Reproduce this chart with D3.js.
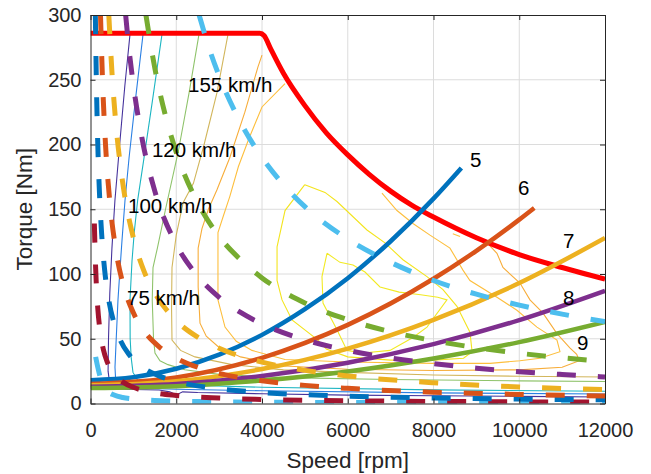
<!DOCTYPE html>
<html>
<head>
<meta charset="utf-8">
<script src="https://cdn.jsdelivr.net/npm/d3@7"></script>
<style>
  body { margin: 0; background: #fff; }
  text { font-family: 'Liberation Sans', Arial, sans-serif; }
</style>
</head>
<body>
<script>
const width = 651;
const height = 474;

// axis ticks
const xTicks = [0, 2000, 4000, 6000, 8000, 10000, 12000];
const yTicks = [0, 50, 100, 150, 200, 250, 300];

// max torque line [rpm, Nm]
const maxTorque = [[0,286],[3950,286],[4050,284],[4200,274],[4500,255],[5000,230],[5500,209],[6000,192],[6500,177],[7000,164],[7500,153],[8000,144],[9000,128],[10000,115],[11000,105],[12000,96]];

// road load for fixed gear ratio 5..9
const gear5 = [[0,18],[1000,20.2],[2000,26.8],[3000,37.7],[4000,53],[5000,72.8],[6000,96.8],[7000,125.3],[8000,158.2],[8650,181.9]];
const gear6 = [[0,15],[2000,20.1],[4000,35.3],[6000,60.7],[8000,96.3],[9000,117.9],[10000,142],[10350,151]];
const gear7 = [[0,14],[2000,17.2],[4000,26.6],[6000,42.4],[8000,64.6],[10000,93],[12000,127.8]];
const gear8 = [[0,13],[2000,15.1],[4000,21.2],[6000,31.5],[8000,45.9],[10000,64.4],[12000,87]];
const gear9 = [[0,12],[2000,13.4],[4000,17.7],[6000,24.7],[8000,34.7],[10000,47.4],[12000,63]];
const gearNames = ['5', '6', '7', '8', '9'];

// constant vehicle speed (dashed)
const speedA = [[120,36],[170,28],[230,20],[300,14],[400,9.5],[550,6.5],[750,4.6],[1000,3.5],[1500,2.4],[2500,1.5],[4000,1],[6000,0.8],[9000,0.6],[12000,0.5]];
const speedB = [[90,139],[110,114],[135,92.6],[170,73.5],[220,56.8],[300,41.7],[400,31.3],[550,22.7],[750,16.7],[1000,12.5],[1500,8.3],[2000,6.25],[3000,4.2],[4000,3.1],[6000,2.1],[8000,1.6],[10000,1.25],[12000,1.04]];
const speedC = [[113,300],[140,243],[170,200],[210,162],[260,131],[330,103],[420,81],[550,62],[700,48.6],[900,37.8],[1200,28.3],[1600,21.3],[2000,17],[2500,13.6],[3000,11.3],[4000,8.5],[6000,5.7],[8000,4.25],[10000,3.4],[12000,2.8]];
const speedD = [[233,300],[280,250],[350,200],[450,156],[600,117],[800,87.5],[1000,70],[1300,53.8],[1600,43.8],[2000,35],[2500,28],[3000,23.3],[4000,17.5],[5000,14],[6000,11.7],[8000,8.75],[10000,7],[12000,5.8]];
const speedE = [[427,300],[500,256],[600,213],[700,183],[800,160],[1000,128],[1250,102],[1500,85.3],[2000,64],[2500,51.2],[3000,42.7],[4000,32],[5000,25.6],[6000,21.3],[8000,16],[10000,12.8],[12000,10.7]];
const speedF = [[820,300],[900,273],[1000,246],[1200,205],[1500,164],[2000,123],[2500,98.4],[3000,82],[3500,70.3],[4000,61.5],[5000,49.2],[6000,41],[7000,35.1],[8000,30.8],[9000,27.3],[10000,24.6],[11000,22.4],[12000,20.5]];
const speedG = [[1293,300],[1500,259],[1750,222],[2000,194],[2500,155],[3000,129],[3500,111],[4000,97],[5000,77.6],[6000,64.7],[7000,55.4],[8000,48.5],[9000,43.1],[10000,38.8],[11000,35.3],[12000,32.3]];
const speedH = [[2533,300],[2800,271],[3000,253],[3500,217],[4000,190],[4500,169],[5000,152],[6000,127],[7000,109],[8000,95],[9000,84.4],[10000,76],[11000,69],[12000,63.3]];

// efficiency contours
const eff1 = [[921,285],[800,245],[680,200],[570,157],[500,120],[450,85],[420,50],[410,25],[450,15],[600,11.5],[1000,10.8],[1600,10.4],[1850,9],[2000,6.6],[2150,9],[2500,8.5],[4000,7.5],[6000,6.5],[8000,6],[10000,5.5],[12000,5]];
const eff2 = [[1225,285],[1050,235],[900,190],[805,157],[735,126],[680,100],[641,80],[600,50],[571,28],[590,16],[700,13],[1000,12],[2000,11],[4000,9.8],[8000,8.2],[12000,7.3]];
const eff3 = [[1667,285],[1450,235],[1250,190],[1100,157],[1020,132],[968,110],[921,80],[925,50],[950,35],[991,24],[1100,18],[1400,16],[2000,14.5],[4000,12.5],[8000,10.5],[12000,9.5]];
const eff4 = [[2530,285],[2300,240],[2050,195],[1750,150],[1560,120],[1458,105],[1440,80],[1470,50],[1504,39],[1620,33],[1807,30],[2200,26],[3000,22.5],[4500,20],[7000,18.5],[10000,17.5],[12000,17]];
const eff5 = [[3207,285],[2950,240],[2650,200],[2400,170],[2160,155],[2000,130],[1901,105],[1890,75],[1901,49],[2100,41],[2437,36],[3300,30],[4500,26],[6000,24],[8000,22],[10000,21],[12000,20.5]];
const eff6 = [[4000,269],[3906,260],[3600,225],[3250,190],[2950,165],[2750,150],[2600,135],[2511,120],[2511,90],[2554,62],[2700,52],[2973,44],[3500,36],[4537,29],[6000,26.5],[8000,25.5],[10000,26],[11000,28],[11400,33],[11340,38],[11180,43],[10880,54],[10550,70],[10250,80],[10016,93],[9620,105],[9480,116],[9250,124]];
const eff7 = [[4537,247],[4000,229],[3700,205],[3450,183],[3250,160],[3100,145],[2973,132],[2973,80],[3137,59],[3400,48],[3767,41],[4537,34],[6000,32],[8000,31],[9317,31],[10016,33],[10482,35],[10950,40],[10880,49],[10413,59],[9946,72],[9480,82],[8850,95],[8687,103],[8384,120],[7918,130],[7521,139],[7148,149],[6798,162.5]];
const eff7b = [[8450,131],[8620,129]];
const eff8 = [[4998,169],[5469,163],[5749,156],[6448,134],[6868,124],[7288,111],[7848,98],[8221,88],[8547,75],[8850,55],[8900,40],[8700,35],[8000,33.5],[7000,33.5],[6000,36],[5500,42],[5306,49],[4700,64.5],[4467,80],[4351,95],[4351,121],[4537,149],[4998,169]];
const eff9 = [[5516,116],[5819,109],[6122,107],[6402,101.5],[6752,90],[7200,86],[7700,84],[8100,82],[8314,80],[7848,59],[7521,51],[6985,41],[6356,39],[5983,41],[5749,57],[5423,77.6],[5399,98],[5516,116]];

// text labels [rpm, Nm]
const speedLabels = [['155 km/h', 2274, 246], ['120 km/h', 1434, 196], ['100 km/h', 875, 153], ['75 km/h', 851, 81.5]];
const gearLabelPos = [[8850, 188], [9970, 167], [11020, 126], [11020, 82], [11345, 46.7]];

const svg = d3.select('body').append('svg').attr('width', width).attr('height', height);

const x = d3.scaleLinear().domain([0, 12000]).range([90.5, 605]);
const y = d3.scaleLinear().domain([0, 300]).range([403.5, 15]);

svg.append('clipPath').attr('id', 'plot')
  .append('rect').attr('x', x(0)).attr('y', y(300))
  .attr('width', x(12000) - x(0)).attr('height', y(0) - y(300));

// grid
const grid = svg.append('g');
grid.selectAll('.gx').data(xTicks.slice(1, -1)).enter().append('line')
  .attr('x1', d => x(d)).attr('x2', d => x(d)).attr('y1', y(0)).attr('y2', y(300))
  .attr('stroke', '#dcdcdc').attr('stroke-width', 1);
grid.selectAll('.gy').data(yTicks.slice(1, -1)).enter().append('line')
  .attr('y1', d => y(d)).attr('y2', d => y(d)).attr('x1', x(0)).attr('x2', x(12000))
  .attr('stroke', '#dcdcdc').attr('stroke-width', 1);

const line = d3.line().x(d => x(d[0])).y(d => y(d[1]));
const smooth = d3.line().x(d => x(d[0])).y(d => y(d[1])).curve(d3.curveMonotoneX);

const g = svg.append('g').attr('clip-path', 'url(#plot)');

// efficiency contours
const contours = [eff1, eff2, eff3, eff4, eff5, eff6, eff7, eff7b, eff8, eff9];
const contourColors = ['#45329c', '#2a7fe3', '#1cb5c2', '#8fc36b', '#d2b65c', '#f7ad3a', '#fdbf3e', '#fdbf3e', '#f3e41e', '#f2ea24'];
g.selectAll('.contour').data(contours).enter().append('path')
  .attr('d', line)
  .attr('fill', 'none')
  .attr('stroke', (d, i) => contourColors[i])
  .attr('stroke-width', 1.1);

// max torque
g.append('path').datum(maxTorque)
  .attr('d', smooth).attr('fill', 'none')
  .attr('stroke', '#ff0000').attr('stroke-width', 5);

// gear lines
const gears = [gear5, gear6, gear7, gear8, gear9];
const gearColors = ['#0072bd', '#d95319', '#edb120', '#7e2f8e', '#77ac30'];
g.selectAll('.gear').data(gears).enter().append('path')
  .attr('d', smooth).attr('fill', 'none')
  .attr('stroke', (d, i) => gearColors[i])
  .attr('stroke-width', 4.5);

// constant speed lines
const speeds = [speedA, speedB, speedC, speedD, speedE, speedF, speedG, speedH];
const speedColors = ['#4dbeee', '#a2142f', '#0072bd', '#d95319', '#edb120', '#7e2f8e', '#77ac30', '#4dbeee'];
g.selectAll('.speed').data(speeds).enter().append('path')
  .attr('d', smooth).attr('fill', 'none')
  .attr('stroke', (d, i) => speedColors[i])
  .attr('stroke-width', 5)
  .attr('stroke-dasharray', '19,22');

// labels
svg.selectAll('.slabel').data(speedLabels).enter().append('text')
  .attr('x', d => x(d[1])).attr('y', d => y(d[2]))
  .attr('dy', '0.36em')
  .attr('font-size', '20.5px').attr('fill', '#000')
  .text(d => d[0]);

svg.selectAll('.glabel').data(gearLabelPos).enter().append('text')
  .attr('x', d => x(d[0])).attr('y', d => y(d[1]))
  .attr('dy', '0.36em')
  .attr('font-size', '20.5px').attr('fill', '#000')
  .text((d, i) => gearNames[i]);

// axes
const axisColor = '#262626';
function styleAxis(sel) {
  sel.select('.domain').attr('stroke', axisColor).attr('stroke-width', 1);
  sel.selectAll('.tick line').attr('stroke', axisColor);
  sel.selectAll('.tick text').attr('fill', axisColor).attr('font-size', '20px')
    .attr('font-family', "'Liberation Sans', Arial, sans-serif");
}

svg.append('g').attr('transform', `translate(0,${y(0)})`)
  .call(d3.axisBottom(x).tickValues(xTicks).tickSize(-5).tickSizeOuter(0).tickPadding(19).tickFormat(d3.format('d')))
  .call(styleAxis);
svg.append('g').attr('transform', `translate(${x(0)},0)`)
  .call(d3.axisLeft(y).tickValues(yTicks).tickSize(-5).tickSizeOuter(0).tickPadding(9))
  .call(styleAxis);
svg.append('g').attr('transform', `translate(0,${y(300)})`)
  .call(d3.axisTop(x).tickValues(xTicks).tickSize(-5).tickSizeOuter(0).tickFormat(''))
  .call(styleAxis);
svg.append('g').attr('transform', `translate(${x(12000)},0)`)
  .call(d3.axisRight(y).tickValues(yTicks).tickSize(-5).tickSizeOuter(0).tickFormat(''))
  .call(styleAxis);

svg.append('text')
  .attr('x', (x(0) + x(12000)) / 2).attr('y', 468)
  .attr('text-anchor', 'middle').attr('font-size', '22.5px').attr('fill', axisColor)
  .text('Speed [rpm]');

svg.append('text')
  .attr('transform', `translate(31.5,${(y(0) + y(300)) / 2}) rotate(-90)`)
  .attr('text-anchor', 'middle').attr('font-size', '22.5px').attr('fill', axisColor)
  .text('Torque [Nm]');
</script>
</body>
</html>
